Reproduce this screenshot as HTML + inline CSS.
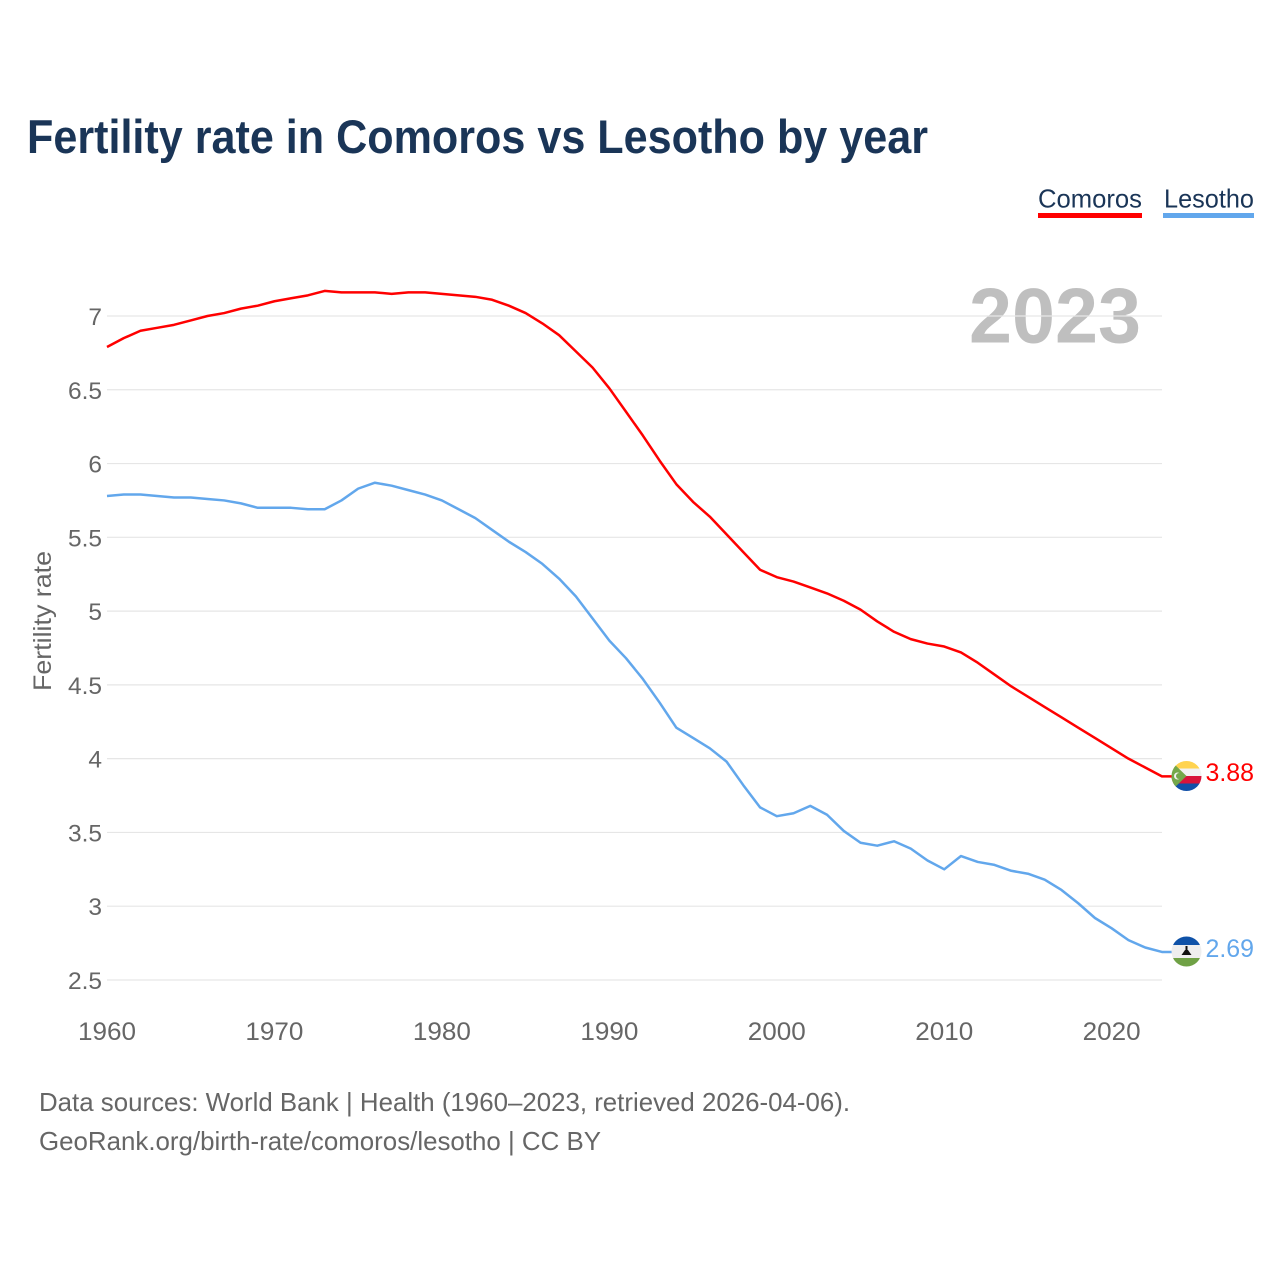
<!DOCTYPE html>
<html lang="en">
<head>
<meta charset="utf-8">
<title>Fertility rate in Comoros vs Lesotho by year</title>
<style>
html,body{margin:0;padding:0;background:#fff;}
svg{display:block;font-family:"Liberation Sans",sans-serif;}
</style>
</head>
<body>
<svg id="chart" width="1280" height="1280" viewBox="0 0 1280 1280" xmlns="http://www.w3.org/2000/svg">
  <defs>
    <clipPath id="flag-clip-km"><circle cx="1186.5" cy="776" r="15"/></clipPath>
    <clipPath id="flag-clip-ls"><circle cx="1186.5" cy="951.5" r="15"/></clipPath>
  </defs>
  <text x="27" y="153" font-size="47" font-weight="700" fill="#1a3557" textLength="901" lengthAdjust="spacingAndGlyphs">Fertility rate in Comoros vs Lesotho by year</text>
  <g>
    <g>
      <text x="1038" y="207.5" font-size="26" fill="#1a3557" textLength="104" lengthAdjust="spacingAndGlyphs">Comoros</text>
      <rect x="1038" y="213" width="104" height="5" fill="#ff0000"/>
    </g>
    <g>
      <text x="1164" y="207.5" font-size="26" fill="#1a3557" textLength="90" lengthAdjust="spacingAndGlyphs">Lesotho</text>
      <rect x="1163" y="213" width="91" height="5" fill="#62a7ec"/>
    </g>
  </g>
  <text id="year" x="969" y="342.5" font-size="78" font-weight="700" fill="#bfbfbf" textLength="172" lengthAdjust="spacingAndGlyphs">2023</text>
  <g id="grid"></g>
  <g id="yticks"></g>
  <g id="xticks"></g>
  <text transform="translate(51,691) rotate(-90)" font-size="25" fill="#666" textLength="140" lengthAdjust="spacingAndGlyphs">Fertility rate</text>
  <g id="series"></g>
  <g clip-path="url(#flag-clip-km)">
    <rect x="1171" y="761" width="31" height="8" fill="#ffd34f"/>
    <rect x="1171" y="768.5" width="31" height="8" fill="#f2f2f2"/>
    <rect x="1171" y="776" width="31" height="8" fill="#d8143a"/>
    <rect x="1171" y="783.5" width="31" height="8" fill="#1150a8"/>
    <polygon points="1171,761 1186.5,776 1171,791" fill="#74a84a"/>
    <circle cx="1177.5" cy="776" r="3.5" fill="#f2f2f2"/>
    <circle cx="1179" cy="776" r="3" fill="#74a84a"/>
  </g>
  <g clip-path="url(#flag-clip-ls)">
    <rect x="1171" y="936" width="31" height="9" fill="#0f52a8"/>
    <rect x="1171" y="945" width="31" height="13" fill="#eeeeee"/>
    <rect x="1171" y="958" width="31" height="9" fill="#6fa145"/>
    <rect x="1185.5" y="946" width="2" height="6" fill="#111"/>
    <polygon points="1181.5,955 1191.5,955 1188,950 1185,950" fill="#111"/>
  </g>
  <text id="value-comoros" x="1205.5" y="781" font-size="25" fill="#ff0000" textLength="48.5" lengthAdjust="spacingAndGlyphs"></text>
  <text id="value-lesotho" x="1205.5" y="957" font-size="25" fill="#62a7ec" textLength="48.5" lengthAdjust="spacingAndGlyphs"></text>
  <g>
    <text x="39" y="1111" font-size="26" fill="#666" textLength="811" lengthAdjust="spacingAndGlyphs">Data sources: World Bank | Health (1960–2023, retrieved 2026-04-06).</text>
    <text x="39" y="1150" font-size="26" fill="#666" textLength="562" lengthAdjust="spacingAndGlyphs">GeoRank.org/birth-rate/comoros/lesotho | CC BY</text>
  </g>
</svg>
<script>
const firstYear = 1960;
const yTicks = [2.5, 3, 3.5, 4, 4.5, 5, 5.5, 6, 6.5, 7];
const xTicks = [1960, 1970, 1980, 1990, 2000, 2010, 2020];
const comoros = [6.79,6.85,6.90,6.92,6.94,6.97,7.00,7.02,7.05,7.07,7.10,7.12,7.14,7.17,7.16,7.16,7.16,7.15,7.16,7.16,7.15,7.14,7.13,7.11,7.07,7.02,6.95,6.87,6.76,6.65,6.51,6.35,6.19,6.02,5.86,5.74,5.64,5.52,5.40,5.28,5.23,5.20,5.16,5.12,5.07,5.01,4.93,4.86,4.81,4.78,4.76,4.72,4.65,4.57,4.49,4.42,4.35,4.28,4.21,4.14,4.07,4.00,3.94,3.88];
const lesotho = [5.78,5.79,5.79,5.78,5.77,5.77,5.76,5.75,5.73,5.70,5.70,5.70,5.69,5.69,5.75,5.83,5.87,5.85,5.82,5.79,5.75,5.69,5.63,5.55,5.47,5.40,5.32,5.22,5.10,4.95,4.80,4.68,4.54,4.38,4.21,4.14,4.07,3.98,3.82,3.67,3.61,3.63,3.68,3.62,3.51,3.43,3.41,3.44,3.39,3.31,3.25,3.34,3.30,3.28,3.24,3.22,3.18,3.11,3.02,2.92,2.85,2.77,2.72,2.69];

const NS = 'http://www.w3.org/2000/svg';
function xScale(year) { return 107 + (year - 1960) * 16.745; }
function yScale(v) { return 316 + (7 - v) * 147.55; }
function make(tag, attrs, parent) {
  const el = document.createElementNS(NS, tag);
  for (const k in attrs) el.setAttribute(k, attrs[k]);
  parent.appendChild(el);
  return el;
}
const gridG = document.getElementById('grid');
const yG = document.getElementById('yticks');
const xG = document.getElementById('xticks');
const seriesG = document.getElementById('series');

yTicks.forEach(function (t) {
  const line = make('line', { x1: 107, x2: 1162, y1: yScale(t), y2: yScale(t), stroke: '#e6e6e6', 'stroke-width': 1.2 }, gridG);
  
  
  const label = make('text', { x: 102, y: yScale(t) + 9, 'text-anchor': 'end', 'font-size': 24.5, fill: '#666' }, yG);
  
  
  label.textContent = String(t);
});
xTicks.forEach(function (t) {
  const label = make('text', { x: xScale(t), y: 1040, 'text-anchor': 'middle', 'font-size': 25, fill: '#666', textLength: 58, lengthAdjust: 'spacingAndGlyphs' }, xG);
  
  
  label.textContent = String(t);
});
function drawSeries(values, color, name) {
  const pts = values.map(function (v, i) { return xScale(firstYear + i).toFixed(2) + ',' + yScale(v).toFixed(2); });
  const last = values[values.length - 1];
  pts.push('1172,' + yScale(last).toFixed(2));
  const line = make('polyline', { points: pts.join(' '), fill: 'none', stroke: color, 'stroke-width': 2.5, 'stroke-linejoin': 'round' }, seriesG);
  
  
}
drawSeries(comoros, '#ff0000', 'line-comoros');
drawSeries(lesotho, '#62a7ec', 'line-lesotho');
document.getElementById('value-comoros').textContent = comoros[comoros.length - 1].toFixed(2);
document.getElementById('value-lesotho').textContent = lesotho[lesotho.length - 1].toFixed(2);
</script>
</body>
</html>
